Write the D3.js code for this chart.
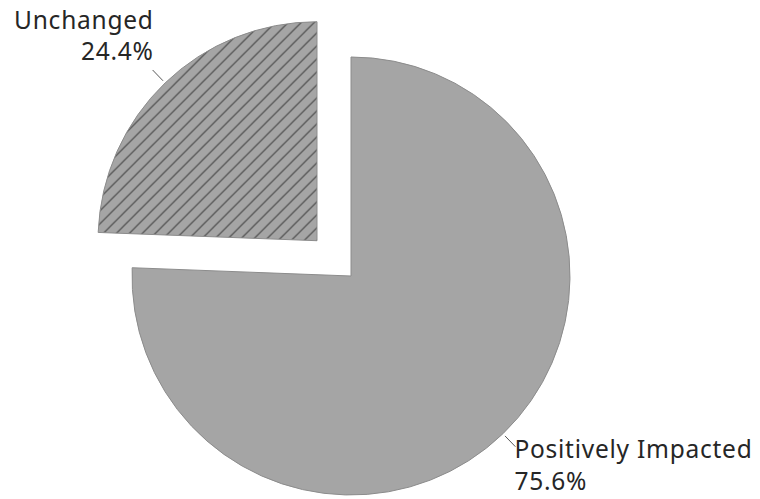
<!DOCTYPE html>
<html><head><meta charset="utf-8">
<script src="https://cdn.jsdelivr.net/npm/d3@7"></script>
<style>body{margin:0;background:#fff}svg{display:block}</style>
</head><body>
<svg id="c" width="760" height="499"></svg>
<script>
const categories = ["Positively Impacted", "Unchanged"];
const values = [75.6, 24.4];
const percentLabels = ["75.6%", "24.4%"];
const exploded = [false, true];

const svg = d3.select("#c");
const cx = 351, cy = 276, R = 219, explode = 49;
const fontFam = "'Noto Sans','Open Sans',sans-serif";

const defs = svg.append("defs");
const pat = defs.append("pattern").attr("id","hatch").attr("patternUnits","userSpaceOnUse")
  .attr("width",13).attr("height",13);
pat.append("rect").attr("width",13).attr("height",13).attr("fill","#a5a5a5");
pat.append("path").attr("d","M-2,15 L15,-2 M-4,4 L4,-4 M9,17 L17,9")
  .attr("stroke","#595959").attr("stroke-width",1.4);

const pie = d3.pie().sort(null).value(d=>d.v);
const arcs = pie(categories.map((c,i)=>({c, v:values[i], lab:percentLabels[i], ex:exploded[i]})));
const arc = d3.arc().innerRadius(0).outerRadius(R);
const g = svg.append("g").attr("transform",`translate(${cx},${cy})`);

arcs.forEach(a=>{
  const mid = (a.startAngle+a.endAngle)/2;
  const off = a.data.ex ? explode : 0;
  const ox = Math.sin(mid)*off, oy = -Math.cos(mid)*off;
  const sg = g.append("g").attr("transform",`translate(${ox},${oy})`);
  sg.append("path").attr("d",arc(a))
    .attr("fill", a.data.ex ? "url(#hatch)" : "#a5a5a5")
    .attr("stroke","#8c8c8c").attr("stroke-width",1);
  const p1 = [Math.sin(mid)*(R+3), -Math.cos(mid)*(R+3)];
  const p2 = [Math.sin(mid)*(R+18), -Math.cos(mid)*(R+18)];
  sg.append("line").attr("x1",p1[0]).attr("y1",p1[1]).attr("x2",p2[0]).attr("y2",p2[1])
    .attr("stroke","#595959").attr("stroke-width",1);
  const right = Math.sin(mid) > 0;
  const mk = () => sg.append("text").attr("font-family",fontFam).attr("font-size",24.5)
    .attr("letter-spacing",0.75).attr("fill","#262626")
    .attr("text-anchor", right ? "start" : "end");
  if (right) {
    mk().attr("x",p2[0]-1).attr("y",p2[1]+11).text(a.data.c);
    mk().attr("x",p2[0]-1).attr("y",p2[1]+43).text(a.data.lab);
  } else {
    mk().attr("x",p2[0]+1).attr("y",p2[1]-41).text(a.data.c);
    mk().attr("x",p2[0]+1).attr("y",p2[1]-10).text(a.data.lab);
  }
});
</script>
</body></html>
